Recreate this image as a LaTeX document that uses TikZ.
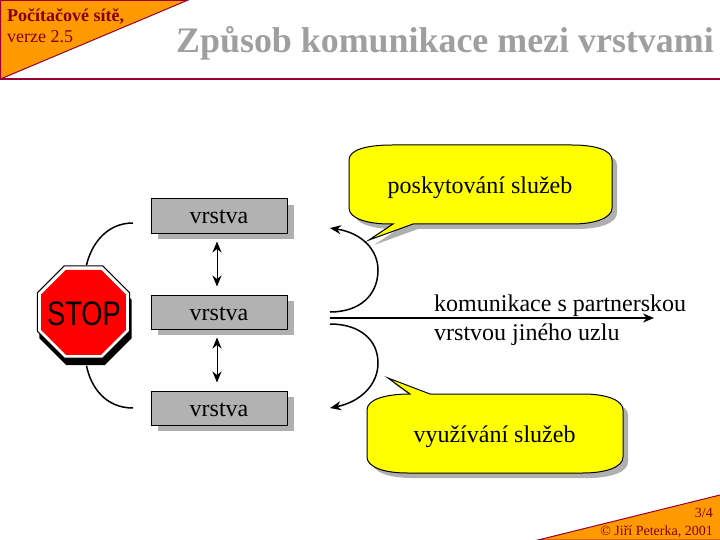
\documentclass[tikz,border=0pt]{standalone}
\usepackage{fontspec}
\setmainfont{Liberation Serif}
\setsansfont{Liberation Sans}
\usetikzlibrary{shadows,shapes.geometric,arrows.meta}
\definecolor{rim}{RGB}{153,0,51}
\definecolor{darktext}{RGB}{128,0,0}
\definecolor{corner}{RGB}{255,153,0}
\definecolor{boxgray}{RGB}{178,178,178}
\definecolor{shadegray}{RGB}{175,175,175}
\definecolor{bubblefill}{RGB}{255,255,0}
\definecolor{signred}{RGB}{255,0,0}
\newcommand{\sized}[1]{\fontsize{#1}{#1}\selectfont}
\tikzset{
	layer/.style = {draw, fill=boxgray, line width=1pt, minimum width=136pt, minimum height=34pt, inner sep=0pt, drop shadow={shadow xshift=6pt, shadow yshift=-6pt, fill=shadegray, opacity=1}},
	bubble/.style = {draw, fill=bubblefill, line width=1pt, drop shadow={shadow xshift=5pt, shadow yshift=-5pt, fill=shadegray, opacity=1}},
	word/.style = {anchor=base, inner sep=0pt, font=\sized{24}},
	link/.style = {line width=1.5pt, >={Stealth[length=11pt,width=9pt,inset=3.5pt]}},
	corner/.style = {draw=rim, fill=corner, line width=1pt},
	small/.style = {anchor=base east, inner sep=0pt, text=darktext, font=\sized{14}},
	octagon/.style = {regular polygon, regular polygon sides=8, inner sep=0pt}
}
\begin{document}
\begin{tikzpicture}[x=1pt,y=-1pt]
	\useasboundingbox (0,0) rectangle (720,540);
	% header and footer
	\draw [corner] (0.5,79) -- (0.5,0.5) -- (187,0.5) -- cycle;
	\draw [corner] (720,495) -- (538,540) -- (720,540);
	\draw [rim,line width=2pt] (0,79) -- (720,79);
	\node [anchor=base west,inner sep=0pt,text=darktext,font=\sized{18}\bfseries] (course) at (7,22) {Počítačové sítě,};
	\node [anchor=base west,inner sep=0pt,text=darktext,font=\sized{18}] (version) at (7,43) {verze 2.5};
	\node [anchor=base west,inner sep=0pt,text=gray!75,font=\sized{35.9}\bfseries] (title) at (176,53) {Způsob komunikace mezi vrstvami};
	\node [small] (page) at (713,517) {3/4};
	\node [small] (author) at (713,535) {© Jiří Peterka, 2001};
	% layers
	\node [layer] (top) at (219.5,216) {};
	\node [layer] (mid) at (219.5,312) {};
	\node [layer] (bot) at (219.5,408) {};
	\node [word] (toptext) at (219,224) {vrstva};
	\node [word] (midtext) at (219,320) {vrstva};
	\node [word] (bottext) at (219,416) {vrstva};
	\draw [<->,link,line width=1pt,shorten <=8pt,shorten >=8pt] ([xshift=-2.5pt]top.south) -- ([xshift=-2.5pt]mid.north);
	\draw [<->,link,line width=1pt,shorten <=8pt,shorten >=8pt] ([xshift=-2.5pt]mid.south) -- ([xshift=-2.5pt]bot.north);
	% stop sign
	\node [octagon,draw,fill=white,line width=1pt,minimum size=100pt,drop shadow={shadow xshift=2pt,shadow yshift=-7pt,fill=black,opacity=1}] (stop) at (83.5,312) {};
	\node [octagon,fill=signred,minimum size=92pt] (stopface) at (83.5,312.3) {};
	\node [anchor=base,inner sep=0pt,xscale=.8,transform shape,font=\sffamily\sized{34}] (stoptext) at (84,325) {STOP};
	\coordinate (upend) at (133,223);
	\coordinate (downend) at (133,408);
	\draw [link] (upend) .. controls (106,223) and (91,245) .. ([xshift=3pt]stop.north);
	\draw [link] (downend) .. controls (106,408) and (91,388) .. ([xshift=3pt,yshift=-7pt]stop.south);
	% arrows on the right
	\coordinate (out) at (330,318);
	\coordinate (far) at (654,318);
	\coordinate (outup) at (330,312);
	\coordinate (outdown) at (330,324);
	\coordinate (backup) at (330,228);
	\coordinate (backdown) at (330,408);
	\draw [->,link,line width=2pt] (out) -- (far);
	\draw [->,link] (outup) .. controls (360,312) and (378,295) .. (378,270) .. controls (378,250) and (362,233) .. (backup);
	\draw [->,link] (outdown) .. controls (360,324) and (378,340) .. (378,363) .. controls (378,385) and (360,402) .. (backdown);
	\node [word,anchor=base west] (talk) at (434,311) {komunikace s partnerskou};
	\node [word,anchor=base west] (talktwo) at (434,340) {vrstvou jiného uzlu};
	% speech bubbles
	\draw [bubble] (349,160) .. controls (349,150) and (366,145) .. (392,145) -- (572,145) .. controls (595,145) and (612,150) .. (612,160) -- (612,208) .. controls (612,218) and (595,224) .. (572,224) -- (413,224) -- (369,240) -- (393,224) -- (390,224) .. controls (366,224) and (349,218) .. (349,208) -- cycle;
	\node [word] (give) at (480,194) {poskytování služeb};
	\draw [bubble] (367,410) .. controls (367,400) and (384,394) .. (410,394) -- (388,378) -- (430,394) -- (583,394) .. controls (606,394) and (623,400) .. (623,410) -- (623,457) .. controls (623,467) and (606,473) .. (583,473) -- (407,473) .. controls (384,473) and (367,467) .. (367,457) -- cycle;
	\node [word] (use) at (494.5,442) {využívání služeb};
\end{tikzpicture}
\end{document}
